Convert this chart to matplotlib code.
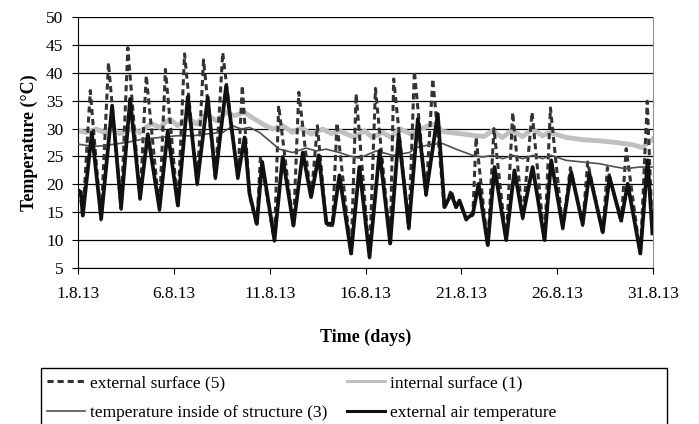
import matplotlib
matplotlib.use('Agg')
import matplotlib.pyplot as plt
from matplotlib.patches import Rectangle

# time axis in days since 1.8.13
tick_days = [0, 5, 10, 15, 20, 25, 30]
tick_labels = ['1.8.13', '6.8.13', '11.8.13', '16.8.13', '21.8.13', '26.8.13', '31.8.13']

# external surface (5) - daily extremes
surf_ext_day = [0.0, 0.12, 0.25, 0.64, 1.2, 1.59, 2.25, 2.6, 3.24, 3.56, 4.25, 4.56,
                5.21, 5.56, 6.22, 6.55, 7.17, 7.55, 8.34, 8.57, 8.95, 9.33, 9.52,
                10.25, 10.47, 11.24, 11.52, 12.16, 12.49, 12.96, 13.28, 13.51,
                14.25, 14.51, 15.21, 15.52, 16.29, 16.47, 17.26, 17.55, 18.16, 18.51,
                19.12, 19.47, 19.73, 19.9, 20.25, 20.6, 20.77, 21.38, 21.7, 22.34,
                22.68, 23.2, 23.69, 24.34, 24.65, 25.29, 25.69, 26.33, 26.59, 27.38,
                27.62, 28.34, 28.6, 29.34, 29.7, 29.97]
surf_ext = [18.8, 18.4, 14.2, 36.8, 13.6, 41.8, 15.5, 44.5, 17.3, 39.5, 15.3, 40.6,
            15.9, 43.4, 19.9, 42.3, 21.0, 43.6, 21.0, 37.7, 18.0, 12.6, 25.0,
            9.8, 34.1, 12.3, 36.5, 17.4, 30.5, 12.7, 12.6, 31.0,
            7.3, 36.2, 6.8, 37.2, 9.1, 38.9, 12.0, 40.3, 18.0, 38.9,
            15.6, 19.0, 15.7, 17.0, 13.6, 14.5, 28.4, 8.8, 30.0, 9.7,
            32.9, 13.8, 32.9, 9.7, 33.7, 12.0, 23.0, 12.6, 24.0, 11.1,
            23.0, 13.2, 26.4, 7.3, 34.9, 11.0]

# internal surface (1)
surf_int_day = [0.03, 0.43, 0.95, 1.38, 1.82, 2.16, 2.78, 3.21, 3.82, 4.25, 4.77, 5.21,
                5.73, 6.17, 6.69, 7.21, 7.73, 8.16, 8.69, 9.21, 9.64, 10.16, 10.68,
                11.2, 11.64, 12.16, 12.77, 13.22, 13.64, 14.16, 14.42, 14.95, 15.36,
                15.88, 16.35, 16.76, 17.39, 17.71, 18.33, 18.7, 19.0, 19.37, 20.16,
                20.78, 21.19, 21.62, 22.14, 22.66, 23.19, 23.71, 24.23, 24.6, 25.49,
                26.32, 27.21, 28.09, 28.93, 29.45, 29.97]
surf_int = [29.6, 29.3, 29.9, 29.3, 29.9, 29.1, 29.9, 29.3, 30.9, 30.2, 31.7, 30.5,
            32.0, 30.8, 32.6, 31.4, 32.9, 32.3, 32.9, 31.7, 30.8, 29.9, 30.5,
            29.3, 30.2, 29.0, 29.9, 29.1, 29.6, 28.8, 28.4, 29.6, 28.4,
            29.3, 28.4, 30.0, 29.0, 29.6, 30.6, 30.8, 29.5, 29.3, 29.0,
            28.7, 28.6, 29.6, 28.4, 29.7, 28.55, 29.9, 28.7, 29.3, 28.4,
            28.0, 27.8, 27.5, 27.1, 26.6, 28.1]

# temperature inside of structure (3)
struct_day = [0.03, 0.77, 1.28, 2.51, 3.38, 4.25, 5.12, 5.99, 6.86, 7.55, 8.08, 8.51,
              8.95, 9.47, 9.99, 10.51, 11.2, 11.9, 12.43, 12.95, 13.64, 14.16, 14.68,
              15.56, 16.42, 17.29, 17.64, 18.51, 19.03, 19.73, 20.59, 21.12, 21.64,
              22.16, 22.68, 23.2, 23.72, 24.24, 24.68, 25.47, 26.33, 27.2, 28.07,
              28.59, 29.28, 29.97]
struct_t = [27.2, 26.8, 26.9, 27.5, 28.1, 28.4, 28.7, 28.7, 29.1, 29.3, 30.5, 29.9,
            30.2, 29.3, 27.8, 26.3, 25.7, 26.5, 26.0, 26.3, 25.7, 25.1, 24.7,
            26.0, 25.2, 25.7, 26.6, 27.2, 27.3, 26.3, 25.2, 24.9, 25.2,
            24.6, 25.2, 24.6, 25.2, 24.6, 25.2, 24.3, 24.0, 23.7, 23.1,
            22.8, 23.1, 23.1]

# external air temperature
air_day = [0.03, 0.15, 0.25, 0.72, 1.21, 1.78, 2.25, 2.72, 3.24, 3.64, 4.25, 4.68,
           5.21, 5.73, 6.22, 6.77, 7.17, 7.73, 8.34, 8.69, 8.95, 9.33, 9.61, 10.25,
           10.68, 11.24, 11.73, 12.16, 12.56, 12.96, 13.28, 13.64, 14.25, 14.68,
           15.21, 15.73, 16.29, 16.73, 17.26, 17.73, 18.16, 18.77, 19.12, 19.47,
           19.73, 19.9, 20.25, 20.6, 20.9, 21.38, 21.73, 22.34, 22.77, 23.2, 23.72,
           24.34, 24.69, 25.29, 25.73, 26.33, 26.68, 27.38, 27.73, 28.34, 28.68,
           29.34, 29.72, 29.97]
air_t = [18.9, 18.6, 14.4, 29.3, 13.9, 34.1, 15.9, 35.3, 17.6, 29.0, 15.6, 29.5,
         16.2, 35.7, 20.2, 35.6, 21.3, 37.7, 21.3, 28.4, 18.3, 12.9, 24.0, 10.0,
         24.9, 12.6, 25.7, 17.7, 25.2, 13.0, 12.9, 21.6, 7.6, 23.1,
         7.0, 26.0, 9.4, 29.0, 12.3, 31.7, 18.3, 32.6, 15.9, 18.3,
         15.9, 17.1, 13.8, 14.7, 20.1, 9.1, 23.1, 10.0, 22.5, 14.1, 23.1,
         10.0, 24.3, 12.3, 22.2, 12.9, 21.9, 11.4, 21.3, 13.5, 20.1,
         7.6, 24.3, 11.2]

plt.rcParams['font.family'] = ['Liberation Serif', 'DejaVu Serif']

fig = plt.figure(figsize=(6.99, 4.24), dpi=100)
ax = fig.add_axes([78 / 699, 1 - 268 / 424, 575 / 699, 251 / 424])

l_ext, = ax.plot(surf_ext_day, surf_ext, color='#333333', lw=2.2, dashes=(2, 1.3),
                 label='external surface (5)', zorder=3)
l_int, = ax.plot(surf_int_day, surf_int, color='#c0c0c0', lw=3.5,
                 label='internal surface (1)', zorder=2)
l_str, = ax.plot(struct_day, struct_t, color='#505050', lw=1.2,
                 label='temperature inside of structure (3)', zorder=4)
l_air, = ax.plot(air_day, air_t, color='#111111', lw=2.7,
                 label='external air temperature', zorder=5)

ax.set_xlim(0, 30)
ax.set_ylim(5, 50)
ax.set_yticks(range(5, 51, 5))
ax.set_xticks(tick_days)
ax.set_xticklabels(tick_labels)
ax.yaxis.grid(True, color='black', lw=0.9)
ax.set_axisbelow(True)
ax.tick_params(labelsize=12.5, direction='out', length=4, color='black', pad=6.5)
ax.tick_params(axis='x', pad=9)

ax.spines['top'].set_visible(False)
ax.spines['right'].set_color('#909090')
ax.spines['left'].set_color('black')
ax.spines['bottom'].set_color('black')

ax.set_ylabel('Temperature (°C)', fontsize=13, fontweight='bold')
ax.yaxis.set_label_coords(-0.069, 0.5)
ax.set_xlabel('Time (days)', fontsize=13, fontweight='bold')
ax.xaxis.set_label_coords(0.5, -0.24)

# legend frame (wider than its entries, runs off the bottom edge)
fig.patches.append(Rectangle((41 / 699, -0.05), (667 - 41) / 699, 0.05 + 1 - 368 / 424,
                             transform=fig.transFigure, fill=False,
                             edgecolor='black', lw=1.0))
leg = fig.legend([l_ext, l_str, l_int, l_air],
                 [l_ext.get_label(), l_str.get_label(), l_int.get_label(), l_air.get_label()],
                 loc='upper left', bbox_to_anchor=(47 / 699, 1 - 375 / 424), ncol=2,
                 fontsize=12.5, frameon=False, handlelength=2.2, handletextpad=0.3,
                 columnspacing=1.1, labelspacing=0.8, borderpad=0, borderaxespad=0)
for h in leg.legend_handles:
    h.set_linewidth(min(h.get_linewidth(), 2.2))

fig.savefig('out.png', dpi=100)
